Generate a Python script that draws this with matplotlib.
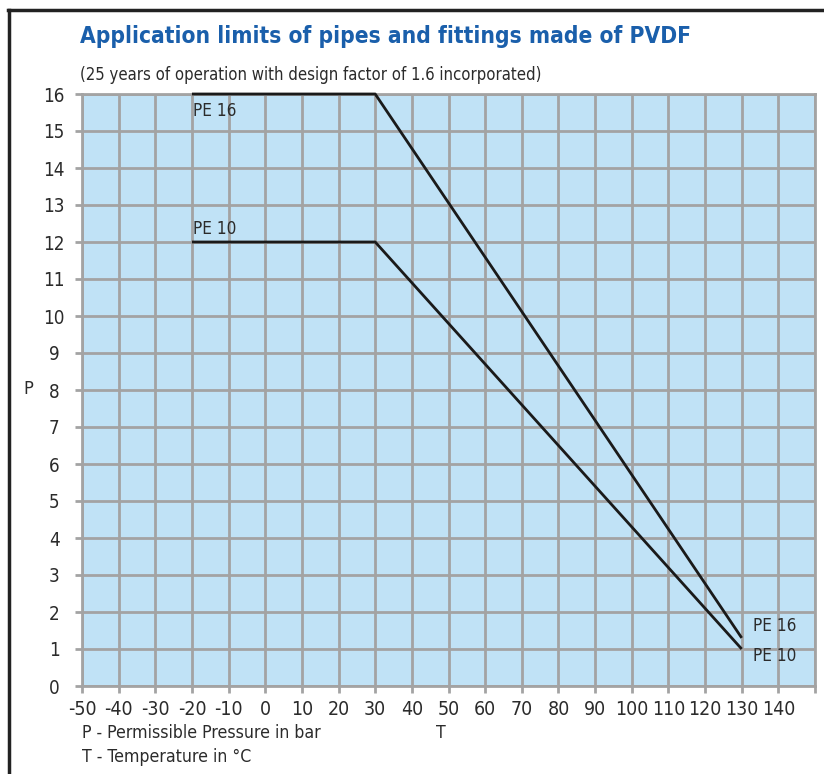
import matplotlib.pyplot as plt
from matplotlib import font_manager
from matplotlib.lines import Line2D

# PVDF application limits: pressure (bar) vs temperature (deg C)
pe16_temp = [-20, 30, 130]
pe16_pres = [16, 16, 1.3]
pe10_temp = [-20, 30, 130]
pe10_pres = [12, 12, 1.0]

x_ticks = list(range(-50, 151, 10))
x_labels = [str(t) for t in range(-50, 141, 10)] + [""]
y_ticks = list(range(0, 17))

# a condensed face suits the original; use it only if installed
have_cond = any(f.name == 'DejaVu Sans' and f.stretch == 'condensed'
                for f in font_manager.fontManager.ttflist)
if have_cond:
    plt.rcParams['font.family'] = ['DejaVu Sans']
    plt.rcParams['font.stretch'] = 'condensed'
    K = 1.0
else:
    plt.rcParams['font.family'] = ['Liberation Sans', 'DejaVu Sans']
    K = 0.92

TXT = '#2b2b2b'
GRID = '#a3a3a3'

fig = plt.figure(figsize=(8.24, 7.74), dpi=100)
ax = fig.add_axes([82 / 824, 1 - 686 / 774, (815 - 82) / 824, (686 - 94) / 774])
ax.set_facecolor('#c0e2f6')

ax.set_xlim(-50, 150)
ax.set_ylim(0, 16)
ax.set_xticks(x_ticks)
ax.set_xticklabels(x_labels)
ax.set_yticks(y_ticks)
ax.grid(True, color=GRID, linewidth=2.0)
ax.set_axisbelow(True)
for s in ax.spines.values():
    s.set_color(GRID)
    s.set_linewidth(2.0)
ax.tick_params(axis='both', colors=GRID, labelcolor=TXT, length=5, width=2.0)
ax.tick_params(axis='x', pad=5, labelsize=14 * K)
ax.tick_params(axis='y', pad=15, labelsize=13.5 * K)
plt.setp(ax.get_yticklabels(), ha='center')

ax.plot(pe16_temp, pe16_pres, color='#1a1a1a', linewidth=2.0, clip_on=False,
        solid_capstyle='butt', zorder=3)
ax.plot(pe10_temp, pe10_pres, color='#1a1a1a', linewidth=2.0, clip_on=False,
        solid_capstyle='butt', zorder=3)

ax.text(-19.8, 15.78, 'PE 16', fontsize=12.3 * K, color=TXT, va='top', ha='left')
ax.text(-19.8, 12.12, 'PE 10', fontsize=12.3 * K, color=TXT, va='bottom', ha='left')
ax.text(133, 1.62, 'PE 16', fontsize=12.3 * K, color=TXT, va='center', ha='left')
ax.text(133, 0.8, 'PE 10', fontsize=12.3 * K, color=TXT, va='center', ha='left')

fig.text(80 / 824, 1 - 37 / 774, 'Application limits of pipes and fittings made of PVDF',
         fontsize=16.3 * K, fontweight='bold', color='#1a5fab', va='center', ha='left')
fig.text(80 / 824, 1 - 75 / 774, '(25 years of operation with design factor of 1.6 incorporated)',
         fontsize=12 * K, color=TXT, va='center', ha='left')
fig.text(28 / 824, 1 - 389 / 774, 'P', fontsize=13 * K, color=TXT, va='center', ha='center')
fig.text(441 / 824, 1 - 733 / 774, 'T', fontsize=12.7 * K, color=TXT, va='center', ha='center')
fig.text(82 / 824, 1 - 733 / 774, 'P - Permissible Pressure in bar',
         fontsize=12.7 * K, color=TXT, va='center', ha='left')
fig.text(82 / 824, 1 - 757 / 774, 'T - Temperature in °C',
         fontsize=12.7 * K, color=TXT, va='center', ha='left')

# outer frame: top and left edges
fig.add_artist(Line2D([8 / 824, 1.0], [1 - 10 / 774, 1 - 10 / 774],
                      transform=fig.transFigure, color='#222222', linewidth=2.5))
fig.add_artist(Line2D([9 / 824, 9 / 824], [0, 1 - 10 / 774],
                      transform=fig.transFigure, color='#222222', linewidth=2.5))

fig.savefig('out.png', dpi=100)
